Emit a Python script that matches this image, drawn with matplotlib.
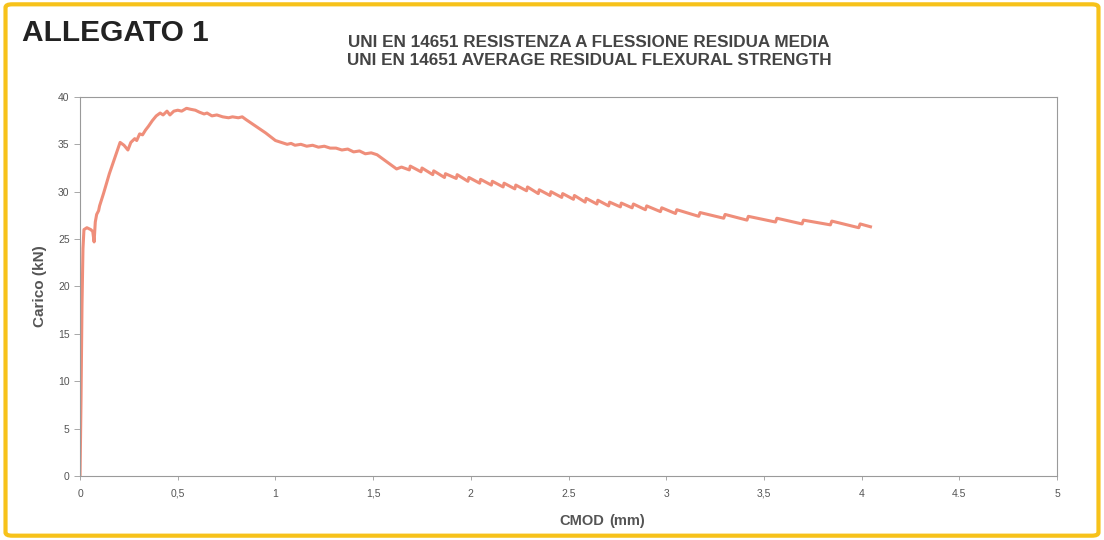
import matplotlib
matplotlib.use('Agg')
from matplotlib import rcParams, pyplot as plt
from matplotlib.patches import FancyBboxPatch

rcParams.update({'font.family': 'Liberation Sans'})

# CMOD (mm) / load (kN)
cmod = [0, 0.005, 0.01, 0.015, 0.02, 0.035, 0.055, 0.065, 0.072, 0.078, 0.085, 0.095,
        0.10, 0.12, 0.15, 0.18, 0.205, 0.225, 0.245, 0.26, 0.28, 0.29, 0.305, 0.32,
        0.335, 0.35, 0.37, 0.39, 0.41, 0.425, 0.445, 0.46, 0.48, 0.50, 0.52, 0.545,
        0.565, 0.59, 0.61, 0.635, 0.65, 0.675, 0.70, 0.73, 0.76, 0.78, 0.81, 0.83,
        0.85, 0.90, 0.95, 1.0, 1.03, 1.06, 1.08, 1.10, 1.13, 1.16, 1.19, 1.22, 1.25,
        1.28, 1.31, 1.34, 1.37, 1.40, 1.43, 1.46, 1.49, 1.52, 1.54, 1.58, 1.62,
        1.645, 1.685, 1.69, 1.745, 1.75, 1.805, 1.81, 1.865, 1.87, 1.925, 1.93,
        1.985, 1.99, 2.045, 2.05, 2.105, 2.11, 2.165, 2.17, 2.225, 2.23, 2.285, 2.29,
        2.345, 2.35, 2.405, 2.41, 2.465, 2.47, 2.525, 2.53, 2.585, 2.59, 2.645, 2.65,
        2.705, 2.71, 2.765, 2.77, 2.825, 2.832, 2.893, 2.90, 2.97, 2.977, 3.047,
        3.054, 3.166, 3.173, 3.294, 3.301, 3.413, 3.42, 3.559, 3.566, 3.695, 3.702,
        3.84, 3.847, 3.985, 3.992, 4.045]
load = [0, 8, 18, 24, 26.0, 26.2, 26.0, 25.8, 24.7, 26.8, 27.6, 28.0,
        28.5, 29.8, 31.9, 33.7, 35.2, 34.9, 34.4, 35.2, 35.6, 35.4, 36.1, 36.0,
        36.5, 36.9, 37.5, 38.0, 38.3, 38.1, 38.5, 38.1, 38.5, 38.6, 38.5, 38.8,
        38.7, 38.6, 38.4, 38.2, 38.3, 38.0, 38.1, 37.9, 37.8, 37.9, 37.8, 37.9,
        37.6, 36.9, 36.2, 35.4, 35.2, 35.0, 35.1, 34.9, 35.0, 34.8, 34.9, 34.7, 34.8,
        34.6, 34.6, 34.4, 34.5, 34.2, 34.3, 34.0, 34.1, 33.9, 33.6, 33.0, 32.4,
        32.6, 32.3, 32.7, 32.1, 32.5, 31.8, 32.2, 31.5, 31.9, 31.4, 31.8,
        31.1, 31.5, 30.9, 31.3, 30.7, 31.1, 30.5, 30.9, 30.3, 30.7, 30.1, 30.5,
        29.8, 30.2, 29.6, 30.0, 29.4, 29.8, 29.2, 29.6, 28.9, 29.3, 28.7, 29.1,
        28.5, 28.9, 28.4, 28.8, 28.3, 28.7, 28.1, 28.5, 27.9, 28.3, 27.7,
        28.1, 27.4, 27.8, 27.2, 27.6, 27.0, 27.4, 26.8, 27.2, 26.6, 27.0,
        26.5, 26.9, 26.2, 26.6, 26.3]

x_ticks = [0, 0.5, 1, 1.5, 2, 2.5, 3, 3.5, 4, 4.5, 5]
x_tick_labels = ['0', '0,5', '1', '1,5', '2', '2.5', '3', '3,5', '4', '4.5', '5']
y_ticks = [0, 5, 10, 15, 20, 25, 30, 35, 40]

fig = plt.figure(figsize=(11.04, 5.4), dpi=100)
ax = fig.add_axes([0.0725, 0.1185, 0.885, 0.702])

# yellow frame round the whole sheet
frame = FancyBboxPatch((0.005, 0.008), 0.99, 0.984, boxstyle='round,pad=0,rounding_size=0.006',
                       transform=fig.transFigure, fill=False, edgecolor='#F7C21A', linewidth=3)
fig.patches.append(frame)

ax.plot(cmod, load, color='#EF8E7A', linewidth=2.2, solid_joinstyle='round')

ax.set_xlim(0, 5)
ax.set_ylim(0, 40)
ax.set_xticks(x_ticks)
ax.set_xticklabels(x_tick_labels)
ax.set_yticks(y_ticks)
for s in ax.spines.values():
    s.set_color('#9a9a9a')
    s.set_linewidth(0.8)
ax.tick_params(colors='#9a9a9a', labelcolor='#555555', labelsize=7.5, length=3, width=0.6)
ax.tick_params(axis='y', length=4)
ax.tick_params(axis='x', pad=6)

ax.set_ylabel('Carico (kN)', fontsize=11, fontweight='bold', color='#555555', labelpad=8)
fig.text(0.507, 0.036, 'CMOD', fontsize=10.5, fontweight='bold', color='#555555', ha='left', va='center')
fig.text(0.5515, 0.036, '(mm)', fontsize=10.5, fontweight='semibold', color='#555555', ha='left', va='center')

fig.text(0.02, 0.938, 'ALLEGATO 1', fontsize=21.5, fontweight='bold', color='#222222', ha='left', va='center')
fig.text(0.5335, 0.922, 'UNI EN 14651 RESISTENZA A FLESSIONE RESIDUA MEDIA', fontsize=12.3,
         fontweight='bold', color='#444444', ha='center', va='center')
fig.text(0.5335, 0.888, 'UNI EN 14651 AVERAGE RESIDUAL FLEXURAL STRENGTH', fontsize=12.3,
         fontweight='bold', color='#444444', ha='center', va='center')

plt.savefig('out.png', dpi=100)
